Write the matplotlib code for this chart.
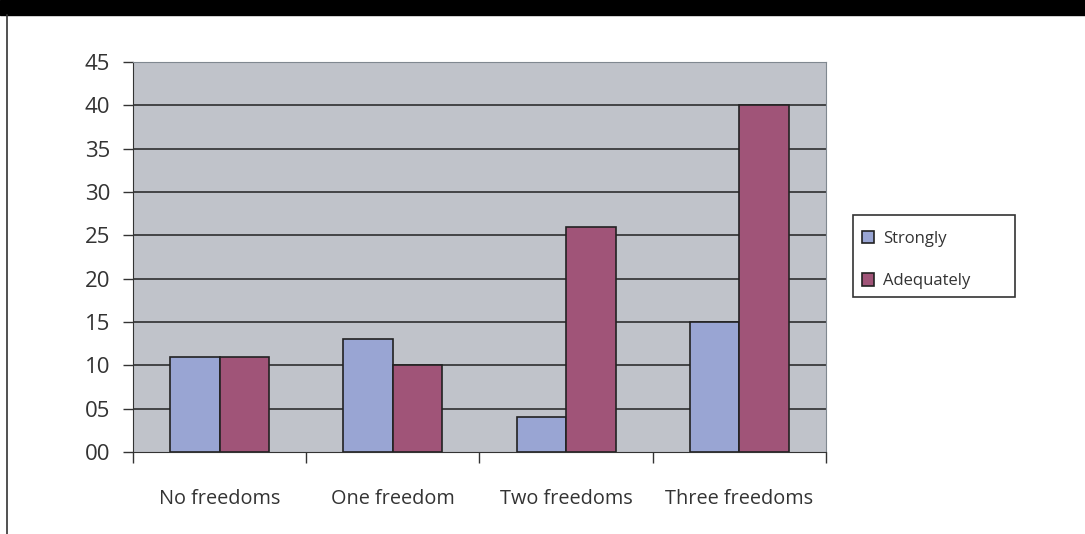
import matplotlib.pyplot as plt
import numpy as np
from matplotlib.patches import Rectangle
from matplotlib.lines import Line2D

categories = ["No freedoms", "One freedom", "Two freedoms", "Three freedoms"]
strongly = [11, 13, 4, 15]
adequately = [11, 10, 26, 40]
yticks = [0, 5, 10, 15, 20, 25, 30, 35, 40, 45]

plt.rcParams['font.family'] = ['Open Sans', 'DejaVu Sans']

W, H = 1085, 534
fig = plt.figure(figsize=(W / 100, H / 100), dpi=100)

# black header band and left frame line
fig.patches.append(Rectangle((0, 1 - 15 / H), 1, 15 / H, transform=fig.transFigure,
                             color='black', zorder=0))
fig.lines.append(Line2D([7 / W, 7 / W], [0, 1 - 15 / H], transform=fig.transFigure,
                        color='#333333', lw=1.2))

ax = fig.add_axes([133 / W, 1 - 452 / H, (826 - 133) / W, (452 - 62) / H])
ax.set_facecolor('#C0C3CA')

x = np.arange(len(categories))
w = 1 / 3.5
ax.bar(x - w / 2, strongly, w, color='#99A5D3', edgecolor='#222222', lw=1.2,
       label='Strongly', zorder=3)
ax.bar(x + w / 2, adequately, w, color='#A05478', edgecolor='#222222', lw=1.2,
       label='Adequately', zorder=3)

ax.set_xlim(-0.5, len(categories) - 0.5)
ax.set_ylim(0, 45)
ax.set_yticks(yticks)
ax.set_yticklabels([f"{v:02d}" for v in yticks], fontsize=16, color='#333333')
for v in yticks[1:-1]:
    ax.axhline(v, color='#222222', lw=1.1, zorder=1)

# category ticks on the boundaries, labels in between
ax.set_xticks(np.arange(len(categories) + 1) - 0.5)
ax.set_xticklabels([])
ax.set_xticks(x, minor=True)
ax.set_xticklabels(categories, minor=True, fontsize=14.3, color='#333333')
ax.tick_params(axis='x', which='major', length=8, width=1, color='#333333')
ax.tick_params(axis='x', which='minor', length=0, pad=27)
ax.tick_params(axis='y', length=7, width=1, color='#333333', pad=9.5)

ax.spines['left'].set_color('#333333')
ax.spines['bottom'].set_color('#333333')
ax.spines['top'].set_color('#808890')
ax.spines['right'].set_color('#808890')

# legend frame drawn separately so it can be wider than its text
fig.patches.append(Rectangle((853 / W, 1 - 297 / H), (1015 - 853) / W, (297 - 215) / H,
                             transform=fig.transFigure, facecolor='white',
                             edgecolor='#333333', lw=1.2, zorder=-1))
leg = ax.legend(loc='upper left', bbox_to_anchor=(855 / W, 1 - 224 / H),
                bbox_transform=fig.transFigure, frameon=False, fontsize=12,
                handlelength=0.75, handleheight=0.75, handletextpad=0.55,
                labelspacing=1.6, borderpad=0.4, borderaxespad=0)
for t in leg.get_texts():
    t.set_color('#333333')

fig.savefig('out.png', dpi=100)
